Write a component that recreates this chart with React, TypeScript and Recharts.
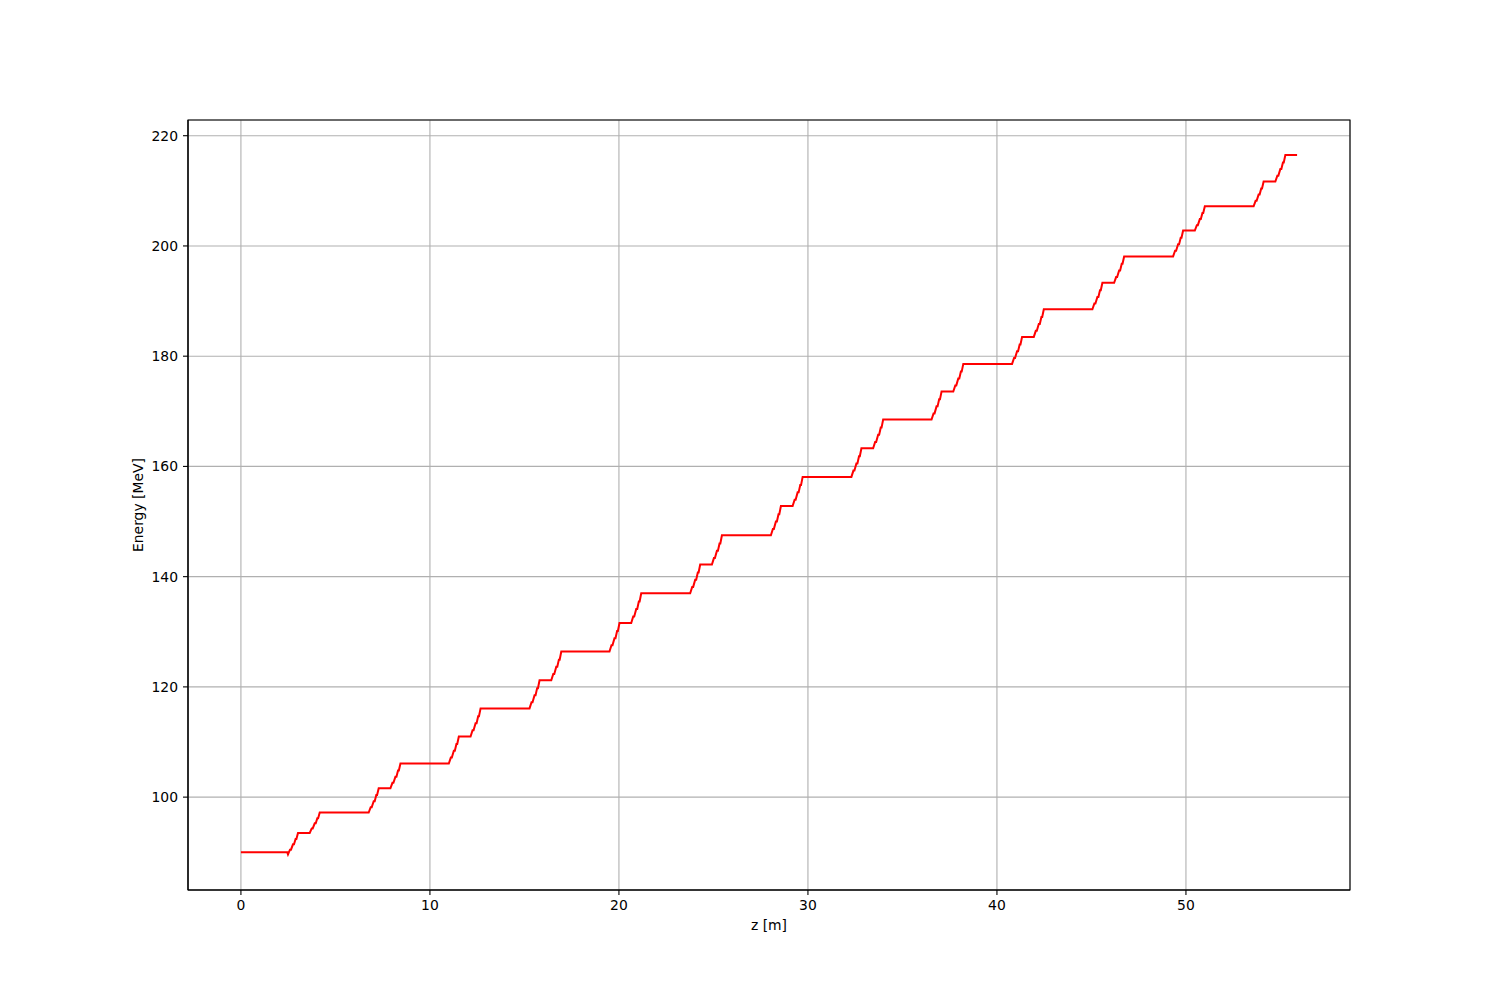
import { LineChart, Line, XAxis, YAxis, CartesianGrid, ReferenceArea } from "recharts"

// cryomodule entrance positions along the line [m]
const moduleStart = [2.49, 6.76, 11.0, 15.27, 19.5, 23.77, 28.04, 32.3, 36.54, 40.8, 45.05, 49.32, 53.58]
// energy after first / second half of each module [MeV]
const energyMid = [93.5, 101.6, 111.0, 121.2, 131.6, 142.2, 152.8, 163.3, 173.6, 183.5, 193.3, 202.8, 211.7]
const energyEnd = [97.2, 106.1, 116.1, 126.4, 137.0, 147.5, 158.1, 168.5, 178.6, 188.5, 198.1, 207.2, 216.5]
// start of the line, with the small dip before the first cavity
const leadIn = [
  { z: 0, E: 90 },
  { z: 2.45, E: 90 },
  { z: 2.49, E: 89.6 },
]
const zEnd = 55.88
// kinks of one cavity group, read from the zoom: [fraction of length, fraction of gain]
const groupShape = [
  [0.2, 0.22], [0.3, 0.22],
  [0.5, 0.47], [0.6, 0.47],
  [0.76, 0.72], [0.84, 0.72],
  [1, 1],
]
const groupLength = 0.53
const secondGroupOffset = 1.15

const xTicks = [0, 10, 20, 30, 40, 50]
const yTicks = [100, 120, 140, 160, 180, 200, 220]
const xDomain: [number, number] = [-2.8, 58.68]
const yDomain: [number, number] = [83.15, 222.85]

type Pt = { z: number; E: number }

function addGroup(pts: Pt[], z0: number, e0: number, e1: number) {
  pts.push({ z: z0, E: e0 })
  groupShape.forEach(([fz, fe]) => {
    pts.push({ z: z0 + fz * groupLength, E: e0 + fe * (e1 - e0) })
  })
}

const data: Pt[] = (() => {
  const pts: Pt[] = [...leadIn]
  let e = leadIn[leadIn.length - 1].E
  moduleStart.forEach((s, i) => {
    addGroup(pts, s, e, energyMid[i])
    addGroup(pts, s + secondGroupOffset, energyMid[i], energyEnd[i])
    e = energyEnd[i]
  })
  pts.push({ z: zEnd, E: e })
  return pts
})()

const font = { fontFamily: "DejaVu Sans", fontSize: 13.9, fill: "#000" }

export default function App() {
  return (
    <div style={{ width: 1492, height: 992, background: "#fff" }}>
      <LineChart
        width={1492}
        height={992}
        data={data}
        margin={{ top: 112, right: 150, bottom: 60, left: 120 }}
      >
        <CartesianGrid stroke="#b0b0b0" strokeWidth={1.1} />
        <XAxis
          dataKey="z"
          type="number"
          domain={xDomain}
          ticks={xTicks}
          allowDataOverflow
          height={50}
          tick={font}
          tickSize={5}
          tickMargin={5}
          axisLine={{ stroke: "#000", strokeWidth: 1.1 }}
          tickLine={{ stroke: "#000", strokeWidth: 1.1 }}
          label={{ value: "z [m]", position: "insideBottom", offset: 10, style: font }}
        />
        <YAxis
          dataKey="E"
          type="number"
          domain={yDomain}
          ticks={yTicks}
          allowDataOverflow
          width={60}
          tick={font}
          tickSize={5}
          tickMargin={5}
          axisLine={{ stroke: "#000", strokeWidth: 1.1 }}
          tickLine={{ stroke: "#000", strokeWidth: 1.1 }}
          label={{
            value: "Energy [MeV]",
            angle: -90,
            position: "insideLeft",
            offset: 10,
            style: { ...font, textAnchor: "middle" },
          }}
        />
        <Line
          type="linear"
          dataKey="E"
          stroke="#ff0000"
          strokeWidth={2}
          dot={false}
          isAnimationActive={false}
        />
        <ReferenceArea
          x1={xDomain[0]}
          x2={xDomain[1]}
          y1={yDomain[0]}
          y2={yDomain[1]}
          fill="none"
          fillOpacity={0}
          stroke="#000"
          strokeWidth={1.1}
          ifOverflow="visible"
        />
      </LineChart>
    </div>
  )
}
